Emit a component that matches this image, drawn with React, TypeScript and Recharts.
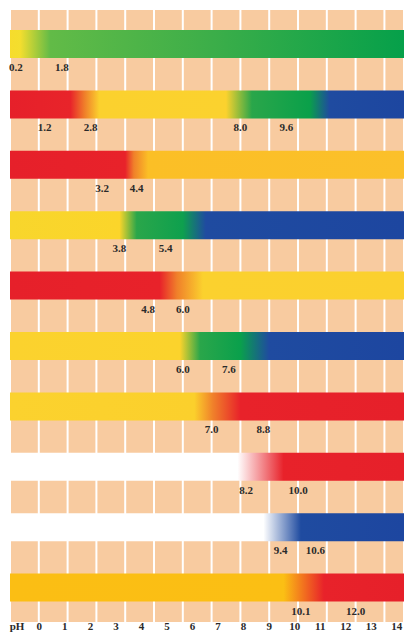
import React from 'react';
import { ComposedChart, Bar, Cell, XAxis, YAxis, CartesianGrid, ReferenceDot } from 'recharts';

// pH indicator ranges, one row per indicator
const indicators = [
  'Malachite green',
  'Thymol blue',
  'Methyl orange',
  'Bromocresol green',
  'Methyl red',
  'Bromothymol blue',
  'Phenol red',
  'Phenolphthalein',
  'Thymolphthalein',
  'Alizarin yellow R',
];

// transition values printed under each bar
const transitions = [
  [0.2, 1.8],
  [1.2, 2.8, 8.0, 9.6],
  [3.2, 4.4],
  [3.8, 5.4],
  [4.8, 6.0],
  [6.0, 7.6],
  [7.0, 8.8],
  [8.2, 10.0],
  [9.4, 10.6],
  [10.1, 12.0],
];

// colour along each bar as [pH, colour]
const colourStops: [number, string][][] = [
  [[0, '#f6dc2c'], [0.35, '#f4de2e'], [1.4, '#62bb47'], [7, '#3cae49'], [13.7, '#06a04a']],
  [[0, '#e6202a'], [2.1, '#e8242a'], [2.6, '#f0802a'], [3.1, '#fbd12e'], [7.5, '#fbd22e'], [8.4, '#2aa64a'], [10.4, '#0aa04a'], [11.1, '#1f4ba0'], [13.7, '#1d46a0']],
  [[0, '#e6202a'], [4.0, '#e8222a'], [4.3, '#f0802a'], [4.8, '#fbbf26'], [13.7, '#fbc02a']],
  [[0, '#f8d62c'], [3.8, '#fbd52a'], [4.4, '#2aa64a'], [6.0, '#0ea04e'], [6.8, '#1f4ba0'], [13.7, '#1d46a0']],
  [[0, '#e6202a'], [5.2, '#e8222a'], [5.8, '#f0802a'], [6.7, '#fbd12e'], [13.7, '#fbd02e']],
  [[0, '#fbd22e'], [5.9, '#fbd32c'], [6.6, '#2aa64a'], [8.0, '#0aa04c'], [9.0, '#1f4ba0'], [13.7, '#1d46a0']],
  [[0, '#fbd22e'], [6.4, '#fbd02c'], [7.05, '#f0802a'], [8.0, '#e8222a'], [13.7, '#e6202a']],
  [[0, '#ffffff'], [7.9, '#ffffff'], [9.5, '#e8222a'], [13.7, '#e6202a']],
  [[0, '#ffffff'], [8.8, '#ffffff'], [10.1, '#1f4ba0'], [13.7, '#1d46a0']],
  [[0, '#fbbe14'], [9.5, '#fbbf14'], [10.9, '#e8222a'], [13.7, '#e6202a']],
];

const phTicks = [0, 1, 2, 3, 4, 5, 6, 7, 8, 9, 10, 11, 12, 13, 14];
const gridLines = [1, 2, 3, 4, 5, 6, 7, 8, 9, 10, 11, 12, 13];

const PH_MAX = 13.68;
const PH_LABEL_POS = -0.87;

const data = indicators.map((name) => ({ name, full: PH_MAX }));

const serif = '"Liberation Serif", "Times New Roman", serif';

const App = () => {
  return (
    <div style={{ position: 'absolute', left: 0, top: 0, background: '#fff' }}>
      <ComposedChart
        width={404}
        height={635}
        layout="vertical"
        data={data}
        margin={{ top: 10, right: 0, left: 10, bottom: 0 }}
        barCategoryGap={0}
      >
        <defs>
          {colourStops.map((stops, i) => (
            <linearGradient key={i} id={`ind-${i}`} x1="0" y1="0" x2="1" y2="0">
              {stops.map(([ph, c], j) => (
                <stop key={j} offset={ph / PH_MAX} stopColor={c} />
              ))}
            </linearGradient>
          ))}
        </defs>
        <CartesianGrid
          horizontal={false}
          fill="#f8cba0"
          fillOpacity={1}
          stroke="#ffffff"
          strokeWidth={2}
          xAxisId="data"
        />
        <XAxis
          xAxisId="data"
          type="number"
          domain={[0, PH_MAX]}
          ticks={gridLines}
          height={0}
          hide
          allowDataOverflow
        />
        <XAxis
          xAxisId="ph"
          type="number"
          domain={[-1.148, 14.28]}
          ticks={[PH_LABEL_POS, ...phTicks]}
          tickFormatter={(v: number) => (v < 0 ? 'pH' : String(v))}
          interval={0}
          height={13}
          axisLine={false}
          tickLine={false}
          tickSize={0}
          tickMargin={0}
          tick={{ fontFamily: serif, fontSize: 11, fontWeight: 'bold', fill: '#2a2a2a' }}
          allowDataOverflow
        />
        <YAxis
          type="category"
          dataKey="name"
          width={0}
          tick={false}
          tickLine={false}
          axisLine={{ stroke: '#222', strokeWidth: 1.2 }}
          padding={{ top: 4, bottom: 4 }}
        />
        <Bar xAxisId="data" dataKey="full" barSize={28} isAnimationActive={false}>
          {data.map((d, i) => (
            <Cell key={d.name} fill={`url(#ind-${i})`} />
          ))}
        </Bar>
        {transitions.map((vals, i) =>
          vals.map((v) => (
            <ReferenceDot
              key={`${i}-${v}`}
              xAxisId="data"
              x={v}
              y={indicators[i]}
              r={1}
              fill="none"
              stroke="none"
              label={{
                value: v.toFixed(1),
                position: 'bottom',
                offset: 18,
                fontFamily: serif,
                fontSize: 11,
                fontWeight: 'bold',
                fill: '#2a2a2a',
              }}
            />
          ))
        )}
      </ComposedChart>
    </div>
  );
};

export default App;
